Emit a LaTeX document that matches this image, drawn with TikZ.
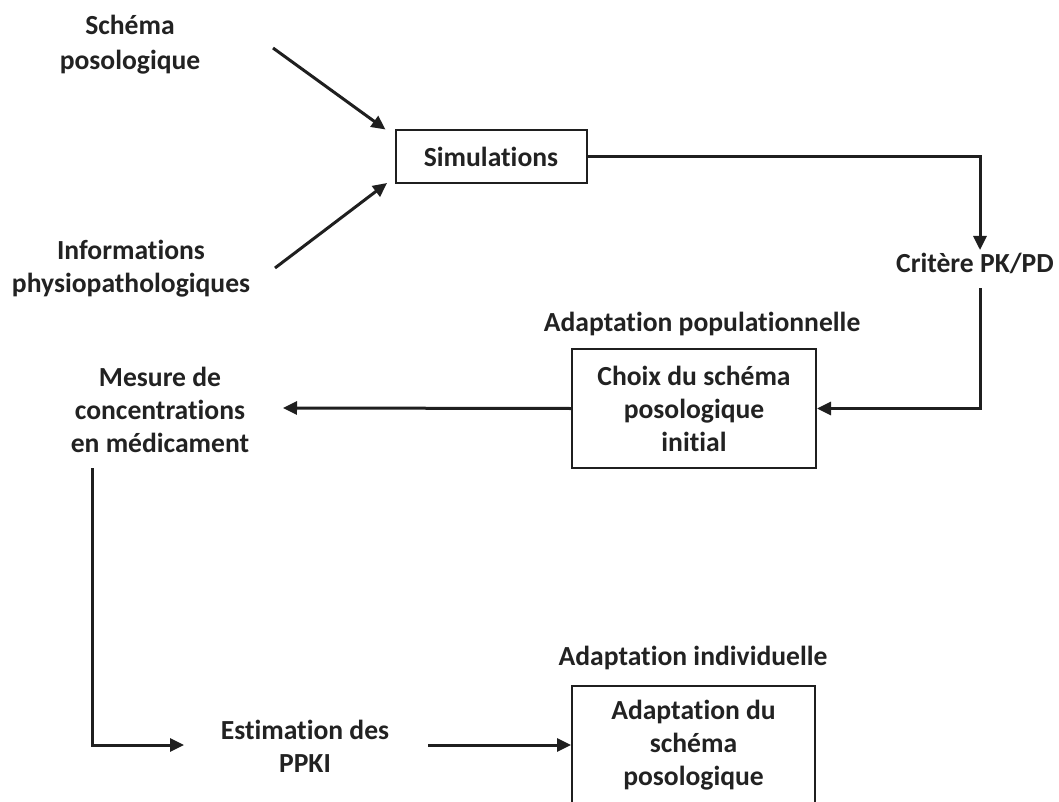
\documentclass[tikz,border=0pt]{standalone}
\usepackage{fontspec}
\setmainfont{Carlito}[Ligatures={NoCommon}]
\usetikzlibrary{arrows.meta,calc}
\definecolor{txt}{HTML}{222222}
\begin{document}
\begin{tikzpicture}[x=1pt,y=-1pt,
  lbl/.style={font=\fontsize{27.6}{33}\selectfont\bfseries, text=txt, align=center, inner sep=0pt},
  boxn/.style={lbl, draw=black!88, line width=2pt},
  arr/.style={draw=black!88, line width=3pt, -{Triangle[length=14pt,width=13pt]}},
  ]
\useasboundingbox (0,0) rectangle (1059,802);
% nodes
\node[lbl] (s1) at (130,45) {Schéma\\[2pt]posologique};
\node[lbl] (s2) at (131,269) {Informations\\physiopathologiques};
\node[boxn, minimum width=191pt, minimum height=53pt] (sim) at (491,157) {Simulations};
\node[lbl] (crit) at (975,263) {Critère PK/PD};
\node[lbl] (pop) at (702,324) {Adaptation populationnelle};
\node[boxn, minimum width=244pt, minimum height=119pt] (choix) at (694,408.5) {Choix du schéma\\posologique\\initial};
\node[lbl] (mesure) at (160,410) {Mesure de\\concentrations\\en médicament};
\node[lbl] (estim) at (305,746) {Estimation des\\PPKI};
\node[lbl] (ind) at (693,658) {Adaptation individuelle};
\node[boxn, minimum width=243pt, minimum height=118pt] (b3) at (693.5,745) {Adaptation du\\schéma\\posologique};
% connectors
\draw[arr] ($(s1.center)+(143,3)$) -- ([xshift=-9pt]sim.north west);
\draw[arr] ($(s2.center)+(144,-1)$) -- ([xshift=-7.5pt,yshift=1.5pt]sim.south west);
\draw[arr] (sim.east) -| ($(crit.center)+(5,-13)$);
\draw[arr] ($(crit.center)+(5,25)$) |- (choix.east);
\draw[arr] (choix.west) -- ($(mesure.center)+(123,-2)$);
\draw[arr] ($(mesure.center)+(-68,58)$) |- ($(estim.center)+(-121,-1)$);
\draw[arr] ($(estim.center)+(123,-1)$) -- (b3.west);
\end{tikzpicture}
\end{document}
